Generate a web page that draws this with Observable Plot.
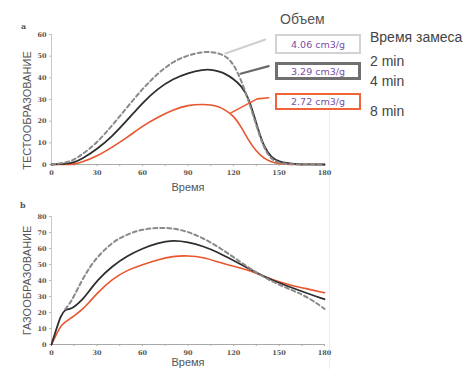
<!DOCTYPE html>
<html>
<head>
<meta charset="utf-8">
<script src="https://cdn.jsdelivr.net/npm/d3@7"></script>
<script src="https://cdn.jsdelivr.net/npm/@observablehq/plot@0.6"></script>
<style>
  html, body { margin: 0; padding: 0; background: #fff; }
  #wrap { position: relative; width: 472px; height: 369px; overflow: hidden; font-family: "Liberation Sans", Arial, sans-serif; }
  #wrap svg { position: absolute; left: 0; }
  .t { position: absolute; white-space: nowrap; color: #444; font-size: 14px; line-height: 1; }
  .box { position: absolute; box-sizing: border-box; background: transparent; color: #7a4fa6;
         font-family: "DejaVu Sans", sans-serif; font-size: 9.5px; display: flex; align-items: center; justify-content: center; }
  .panel { position: absolute; font-family: "DejaVu Serif", serif; font-weight: bold; font-size: 8px; color: #555; }
</style>
</head>
<body>
<div id="wrap"></div>
<script>
// ---- Data: chart a (ТЕСТООБРАЗОВАНИЕ) ----
const timeA = [0,10,15,20,30,40,50,60,70,80,90,100,105,110,115,120,125,130,135,140,145,150,160,170,180];
const dough2min = [0,0.8,2.3,4.5,10,18,26.5,35,42,47.5,50.5,52,52,51.3,50,46.5,39,29.5,18,7.5,2.3,0.5,0,0,0];
const dough4min = [0,0.3,1,2.5,7,13,20.5,28.5,35,39.5,42.3,43.8,43.8,43,41.8,39.5,36.5,31,19,8,3.2,1.2,0.2,0,0];
const dough8min = [0,0,0.2,1,3.8,8,12.5,17.8,21.8,25.2,27.5,27.8,27.6,26.8,25,22.5,17.5,11,6,2.8,1.2,0.3,0,0,0];

// ---- Data: chart b (ГАЗООБРАЗОВАНИЕ) ----
const timeB = [0,3,6,9,12,15,20,25,30,40,50,60,70,80,90,100,110,120,130,140,150,160,170,180];
const gas2min = [null,null,null,22,25.5,30.5,40,48,54.5,64,69,72,73,72.8,70.5,66.5,61,54.6,48,42,37.3,33.5,29,22.3];
const gas4min = [0,9,18,22,22,23.5,27.5,33.5,40,49,55.5,60,63.5,65.2,64,61.5,57.5,52.5,47.5,42.5,38.5,35,31.5,28.3];
const gas8min = [0,6,11.5,14,16,18,21.5,26.5,32,41,46.5,50,53,55.2,55.6,54.5,51.5,48.8,46.5,42.5,39,36.5,34.5,32.3];

// ---- Tick labels ----
const xTicks = [0,30,60,90,120,150,180];
const xMinorTicks = [0,15,30,45,60,75,90,105,120,135,150,165,180];
const yTicksA = [0,10,20,30,40,50,60];
const yTicksB = [0,10,20,30,40,50,60,70,80];

// ---- Legend / annotation ----
const volumes = ["4.06 cm3/g","3.29 cm3/g","2.72 cm3/g"];
const mixTimes = ["2 min","4 min","8 min"];
const seriesColors = ["#8a8a8a","#2e2e2e","#e8552e"];
const boxColors = ["#d2d2d2","#707070","#f0643c"];
// leader lines (data units of chart a)
const leader2 = [{t:114.7,v:51.2},{t:141,v:57.7}];
const leader4 = [{t:124.6,v:41.9},{t:143.2,v:45.4}];
const leader8 = [{t:118,v:23.7},{t:135.6,v:30.3},{t:143.2,v:30.8}];

function rows(times, vals) {
  return times.map((t,i) => ({t, v: vals[i]})).filter(d => d.v != null);
}

const tickFont = {fontFamily: "'DejaVu Serif', serif", fontSize: 6.5, fill: "#555", fontWeight: "bold"};

function makeChart({height, marginTop, marginBottom, yMax, yTicks, series, ylabel, ylabelDy, xlabelDy, extra}) {
  const marks = [
    Plot.ruleX([0], {stroke: "#c8c8c8", strokeWidth: 1}),
    Plot.axisY({ticks: yTicks, tickSize: 2, tickPadding: 3, stroke: "#bbb", ...tickFont, label: null}),
    Plot.axisX({ticks: xMinorTicks, tickSize: 2, text: null, stroke: "#aaa", label: null}),
    Plot.axisX({ticks: xTicks, tickSize: 0, tickPadding: 6, ...tickFont, label: null}),
    Plot.ruleY([0], {stroke: "#aaa", strokeWidth: 1.2}),
    Plot.line(series[2], {x: "t", y: "v", stroke: seriesColors[2], strokeWidth: 1.6, curve: "basis"}),
    Plot.line(series[1], {x: "t", y: "v", stroke: seriesColors[1], strokeWidth: 1.8, curve: "basis"}),
    Plot.line(series[0], {x: "t", y: "v", stroke: seriesColors[0], strokeWidth: 2, strokeDasharray: "4,3", curve: "basis"}),
    Plot.text([ylabel], {frameAnchor: "left", text: d => d, rotate: -90, dx: -24, dy: ylabelDy, textAnchor: "middle",
      fontFamily: "'Liberation Sans', Arial, sans-serif", fontSize: 11, fill: "#555"}),
    Plot.text(["Время"], {frameAnchor: "bottom", text: d => d, dy: xlabelDy, textAnchor: "middle", lineAnchor: "middle",
      fontFamily: "'Liberation Sans', Arial, sans-serif", fontSize: 11, fill: "#555"}),
    ...(extra || [])
  ];
  return Plot.plot({
    width: 472, height, marginLeft: 51, marginRight: 148, marginTop, marginBottom,
    x: {domain: [0,180]},
    y: {domain: [0,yMax]},
    style: {background: "transparent", overflow: "visible"},
    marks
  });
}

const chartA = makeChart({
  height: 195, marginTop: 34, marginBottom: 31, yMax: 60, yTicks: yTicksA,
  series: [rows(timeA, dough2min), rows(timeA, dough4min), rows(timeA, dough8min)],
  ylabel: "ТЕСТООБРАЗОВАНИЕ", ylabelDy: 11, xlabelDy: 22.5,
  extra: [
    Plot.line(leader2, {x: "t", y: "v", stroke: "#cfcfcf", strokeWidth: 2, clip: false}),
    Plot.line(leader4, {x: "t", y: "v", stroke: "#6a6a6a", strokeWidth: 2.2, clip: false}),
    Plot.line(leader8, {x: "t", y: "v", stroke: "#ee5a30", strokeWidth: 1.6, clip: false})
  ]
});
chartA.style.top = "0px";

const chartB = makeChart({
  height: 179, marginTop: 26, marginBottom: 25, yMax: 80, yTicks: yTicksB,
  series: [rows(timeB, gas2min), rows(timeB, gas4min), rows(timeB, gas8min)],
  ylabel: "ГАЗООБРАЗОВАНИЕ", ylabelDy: 0, xlabelDy: 18
});
chartB.style.top = "190px";

const wrap = document.getElementById("wrap");
// faint right border line from the original figure
const vline = document.createElement("div");
vline.style.cssText = "position:absolute;left:329px;top:95px;width:1px;height:274px;background:#ededed;";
wrap.appendChild(vline);
wrap.appendChild(chartA);
wrap.appendChild(chartB);

function addText(txt, left, top, cls, extraCss) {
  const d = document.createElement("div");
  d.className = cls;
  d.textContent = txt;
  d.style.left = left + "px";
  d.style.top = top + "px";
  if (extraCss) d.style.cssText += extraCss;
  wrap.appendChild(d);
  return d;
}
addText("a", 21, 21, "panel");
addText("b", 20, 200, "panel");
addText("Объем", 280, 12, "t", "color:#555;");
addText("Время замеса", 370, 30, "t");
const boxTops = [34, 62, 93];
const boxH = [20, 18, 17];
const boxBW = [2, 3, 2];
const mixTops = [54, 74, 104];
volumes.forEach((v, i) => {
  const b = addText(v, 275, boxTops[i], "box");
  b.style.width = "86px";
  b.style.height = boxH[i] + "px";
  b.style.border = boxBW[i] + "px solid " + boxColors[i];
  addText(mixTimes[i], 370, mixTops[i], "t");
});
</script>
</body>
</html>
